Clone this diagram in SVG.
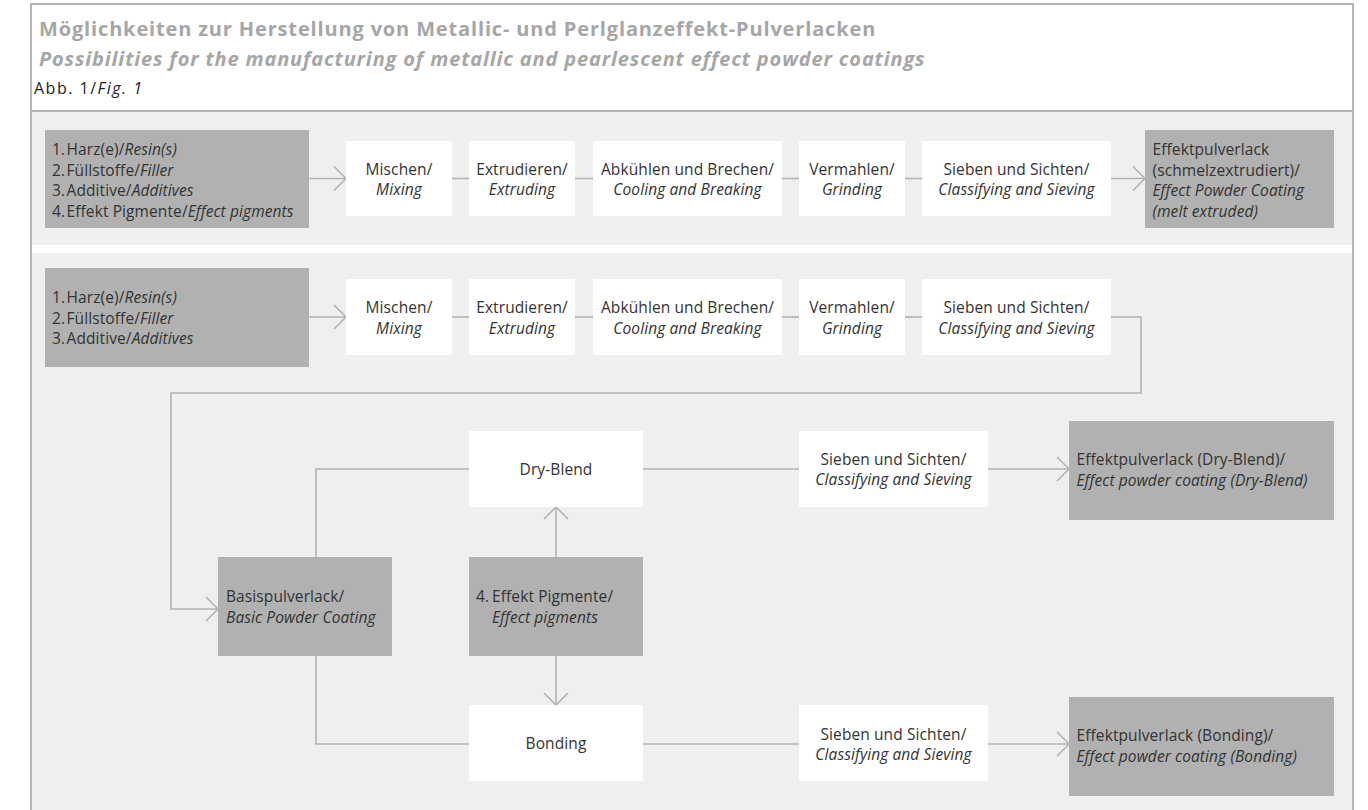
<svg xmlns="http://www.w3.org/2000/svg" width="1368" height="810" viewBox="0 0 1368 810">
<defs>
<style>
.t{font-family:"Open Sans","Noto Sans","Liberation Sans",sans-serif;font-size:15.5px;letter-spacing:0.1px;fill:#333333}
.i{font-style:italic}
.c{text-anchor:middle}
.box{fill:#ffffff}
.gbox{fill:#b0b1b0}
.ln{fill:none;stroke:#b3b3b3;stroke-width:1.6}
.ar{fill:none;stroke:#b3b3b3;stroke-width:1.6;marker-end:url(#arr)}
.h1{font-family:"Open Sans","Noto Sans","Liberation Sans",sans-serif;font-size:20px;letter-spacing:0.85px;font-weight:bold;fill:#a6a6a6}
</style>
<marker id="arr" markerUnits="userSpaceOnUse" markerWidth="16" markerHeight="28" refX="13" refY="13" orient="auto" viewBox="0 0 16 28">
<path d="M1,1 L13,13 L1,25" fill="none" stroke="#b3b3b3" stroke-width="1.6"/>
</marker>
</defs>

<g id="frame">
<rect x="0" y="0" width="1368" height="810" fill="#ffffff"/>
<rect x="32" y="112" width="1320" height="133" fill="#efefef"/>
<rect x="32" y="253" width="1320" height="557" fill="#efefef"/>
<path d="M31,810 V4 H1353 V810" fill="none" stroke="#b5b5b5" stroke-width="2"/>
<line x1="31" y1="111" x2="1353" y2="111" stroke="#b5b5b5" stroke-width="2"/>
</g>

<g id="header">
<text class="h1" x="39" y="36">Möglichkeiten zur Herstellung von Metallic- und Perlglanzeffekt-Pulverlacken</text>
<text class="h1 i" x="39" y="66">Possibilities for the manufacturing of metallic and pearlescent effect powder coatings</text>
<text class="t" x="34" y="94" style="fill:#222;font-size:16px;letter-spacing:1.5px">Abb. 1/<tspan class="i">Fig. 1</tspan></text>
</g>

<g id="connectors">
<line class="ar" x1="309" y1="178.5" x2="346" y2="178.5"/>
<line class="ln" x1="452" y1="178.5" x2="469" y2="178.5"/>
<line class="ln" x1="575" y1="178.5" x2="593" y2="178.5"/>
<line class="ln" x1="782" y1="178.5" x2="799" y2="178.5"/>
<line class="ln" x1="905" y1="178.5" x2="922" y2="178.5"/>
<line class="ar" x1="1111" y1="178.5" x2="1145" y2="178.5"/>

<line class="ar" x1="309" y1="317" x2="346" y2="317"/>
<line class="ln" x1="452" y1="317" x2="469" y2="317"/>
<line class="ln" x1="575" y1="317" x2="593" y2="317"/>
<line class="ln" x1="782" y1="317" x2="799" y2="317"/>
<line class="ln" x1="905" y1="317" x2="922" y2="317"/>
<path class="ar" d="M1111,317 H1141 V393 H171 V609 H218"/>

<path class="ln" d="M316,557 V469 H469"/>
<path class="ln" d="M316,656 V744 H469"/>
<line class="ar" x1="556" y1="557" x2="556" y2="507"/>
<line class="ar" x1="556" y1="656" x2="556" y2="705"/>
<line class="ln" x1="643" y1="469" x2="799" y2="469"/>
<line class="ar" x1="988" y1="469" x2="1069" y2="469"/>
<line class="ln" x1="643" y1="744" x2="799" y2="744"/>
<line class="ar" x1="988" y1="744" x2="1069" y2="744"/>
</g>

<g id="r1-input">
<rect class="gbox" x="45" y="130" width="264" height="98"/>
<text class="t"><tspan x="52" y="155">1.</tspan><tspan x="66.5" y="155">Harz(e)/<tspan class="i">Resin(s)</tspan></tspan></text>
<text class="t"><tspan x="52" y="175.5">2.</tspan><tspan x="66.5" y="175.5">Füllstoffe/<tspan class="i">Filler</tspan></tspan></text>
<text class="t"><tspan x="52" y="196">3.</tspan><tspan x="66.5" y="196">Additive/<tspan class="i">Additives</tspan></tspan></text>
<text class="t"><tspan x="52" y="216.5">4.</tspan><tspan x="66.5" y="216.5">Effekt Pigmente/<tspan class="i">Effect pigments</tspan></tspan></text>
</g>
<g id="r1-mischen">
<rect class="box" x="346" y="141" width="106" height="75"/>
<text class="t c" x="399" y="174.5">Mischen/</text>
<text class="t c i" x="399" y="195">Mixing</text>
</g>
<g id="r1-extrudieren">
<rect class="box" x="469" y="141" width="106" height="75"/>
<text class="t c" x="522" y="174.5">Extrudieren/</text>
<text class="t c i" x="522" y="195">Extruding</text>
</g>
<g id="r1-abkuehlen">
<rect class="box" x="593" y="141" width="189" height="75"/>
<text class="t c" x="687.5" y="174.5">Abkühlen und Brechen/</text>
<text class="t c i" x="687.5" y="195">Cooling and Breaking</text>
</g>
<g id="r1-vermahlen">
<rect class="box" x="799" y="141" width="106" height="75"/>
<text class="t c" x="852" y="174.5">Vermahlen/</text>
<text class="t c i" x="852" y="195">Grinding</text>
</g>
<g id="r1-sieben">
<rect class="box" x="922" y="141" width="189" height="75"/>
<text class="t c" x="1016.5" y="174.5">Sieben und Sichten/</text>
<text class="t c i" x="1016.5" y="195">Classifying and Sieving</text>
</g>
<g id="r1-output">
<rect class="gbox" x="1145" y="130" width="189" height="98"/>
<text class="t" x="1152.5" y="155">Effektpulverlack</text>
<text class="t" x="1152.5" y="175.5">(schmelzextrudiert)/</text>
<text class="t i" x="1152.5" y="196">Effect Powder Coating</text>
<text class="t i" x="1152.5" y="216.5">(melt extruded)</text>
</g>

<g id="r2-input">
<rect class="gbox" x="45" y="268" width="264" height="99"/>
<text class="t"><tspan x="52" y="303">1.</tspan><tspan x="66.5" y="303">Harz(e)/<tspan class="i">Resin(s)</tspan></tspan></text>
<text class="t"><tspan x="52" y="323.5">2.</tspan><tspan x="66.5" y="323.5">Füllstoffe/<tspan class="i">Filler</tspan></tspan></text>
<text class="t"><tspan x="52" y="344">3.</tspan><tspan x="66.5" y="344">Additive/<tspan class="i">Additives</tspan></tspan></text>
</g>
<g id="r2-mischen">
<rect class="box" x="346" y="279" width="106" height="76"/>
<text class="t c" x="399" y="313">Mischen/</text>
<text class="t c i" x="399" y="333.5">Mixing</text>
</g>
<g id="r2-extrudieren">
<rect class="box" x="469" y="279" width="106" height="76"/>
<text class="t c" x="522" y="313">Extrudieren/</text>
<text class="t c i" x="522" y="333.5">Extruding</text>
</g>
<g id="r2-abkuehlen">
<rect class="box" x="593" y="279" width="189" height="76"/>
<text class="t c" x="687.5" y="313">Abkühlen und Brechen/</text>
<text class="t c i" x="687.5" y="333.5">Cooling and Breaking</text>
</g>
<g id="r2-vermahlen">
<rect class="box" x="799" y="279" width="106" height="76"/>
<text class="t c" x="852" y="313">Vermahlen/</text>
<text class="t c i" x="852" y="333.5">Grinding</text>
</g>
<g id="r2-sieben">
<rect class="box" x="922" y="279" width="189" height="76"/>
<text class="t c" x="1016.5" y="313">Sieben und Sichten/</text>
<text class="t c i" x="1016.5" y="333.5">Classifying and Sieving</text>
</g>

<g id="basis">
<rect class="gbox" x="218" y="557" width="174" height="99"/>
<text class="t" x="226" y="602">Basispulverlack/</text>
<text class="t i" x="226" y="622.5">Basic Powder Coating</text>
</g>
<g id="pigmente">
<rect class="gbox" x="469" y="557" width="174" height="99"/>
<text class="t"><tspan x="476" y="602">4.</tspan><tspan x="492" y="602">Effekt Pigmente/</tspan></text>
<text class="t i" x="492" y="622.5">Effect pigments</text>
</g>
<g id="dryblend">
<rect class="box" x="469" y="431" width="174" height="76"/>
<text class="t c" x="556" y="474.5">Dry-Blend</text>
</g>
<g id="bonding">
<rect class="box" x="469" y="705" width="174" height="76"/>
<text class="t c" x="556" y="749">Bonding</text>
</g>
<g id="sieben-dry">
<rect class="box" x="799" y="431" width="189" height="76"/>
<text class="t c" x="893.5" y="464.5">Sieben und Sichten/</text>
<text class="t c i" x="893.5" y="485">Classifying and Sieving</text>
</g>
<g id="sieben-bond">
<rect class="box" x="799" y="705" width="189" height="76"/>
<text class="t c" x="893.5" y="739.5">Sieben und Sichten/</text>
<text class="t c i" x="893.5" y="760">Classifying and Sieving</text>
</g>
<g id="out-dry">
<rect class="gbox" x="1069" y="421" width="265" height="99"/>
<text class="t" x="1076.5" y="465">Effektpulverlack (Dry-Blend)/</text>
<text class="t i" x="1076.5" y="486">Effect powder coating (Dry-Blend)</text>
</g>
<g id="out-bond">
<rect class="gbox" x="1069" y="697" width="265" height="99"/>
<text class="t" x="1076.5" y="741">Effektpulverlack (Bonding)/</text>
<text class="t i" x="1076.5" y="762">Effect powder coating (Bonding)</text>
</g>
</svg>
